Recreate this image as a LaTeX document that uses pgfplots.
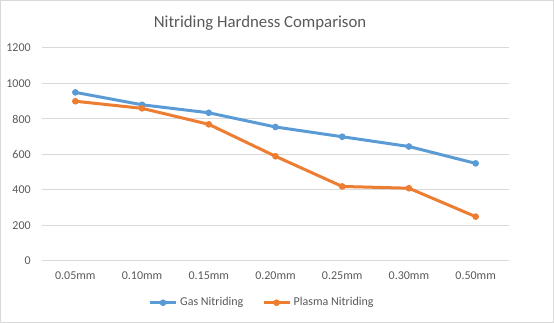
\documentclass[border=0pt]{standalone}
\usepackage{fontspec}
\setmainfont{Carlito}
\usepackage{pgfplots}
\pgfplotsset{compat=1.18}
\definecolor{gasc}{HTML}{5B9BD5}
\definecolor{plac}{HTML}{ED7D31}
\definecolor{txt}{HTML}{595959}
\definecolor{gridc}{HTML}{D9D9D9}
\begin{document}
\begin{tikzpicture}
\useasboundingbox (-31.5pt,-46.5pt) rectangle (384pt,195.75pt);
\draw[gridc, line width=0.75pt] (-31.1pt,-46.1pt) rectangle (383.6pt,195.35pt);
\begin{axis}[
  at={(0,0)}, anchor=south west,
  scale only axis,
  width=350.25pt, height=159.75pt,
  xmin=-0.5, xmax=6.5, ymin=0, ymax=1200,
  xtick={0,...,6},
  xticklabels={0.05mm,0.10mm,0.15mm,0.20mm,0.25mm,0.30mm,0.50mm},
  ytick={0,200,...,1200},
  ymajorgrids,
  grid style={gridc, line width=0.75pt},
  axis lines=left,
  axis line style={-},
  x axis line style={draw=gridc, line width=0.75pt},
  y axis line style={draw=none},
  major tick length=0pt,
  tick style={draw=none},
  ticklabel style={font=\fontsize{9pt}{11pt}\selectfont, text=txt},
  /pgf/number format/assume math mode=true,
  /pgf/number format/1000 sep={},
  yticklabel style={inner sep=0pt, xshift=-8.25pt},
  xticklabel style={inner sep=0pt, yshift=-7.5pt},
  legend style={at={(axis description cs:0.472,-0.196)}, anchor=center, draw=none, fill=none,
    legend columns=2, font=\fontsize{9pt}{11pt}\selectfont, text=txt,
    /tikz/every even column/.append style={column sep=12pt},
    inner sep=0pt},
  legend image code/.code={\draw[mark repeat=2,mark phase=2,#1] plot coordinates {(0pt,0pt) (9.75pt,0pt) (19.5pt,0pt)};},
  clip=false,
]
\addplot[gasc, line width=2.25pt, mark=*, mark size=2.1pt, mark options={solid, line width=0.75pt}] coordinates {
  (0,950) (1,880) (2,835) (3,755) (4,700) (5,645) (6,550)};
\addlegendentry{Gas Nitriding}
\addplot[plac, line width=2.25pt, mark=*, mark size=2.1pt, mark options={solid, line width=0.75pt}] coordinates {
  (0,900) (1,860) (2,770) (3,590) (4,420) (5,410) (6,250)};
\addlegendentry{Plasma Nitriding}
\node[text=txt, font=\fontsize{12.6pt}{15pt}\selectfont] at (axis description cs:0.467,1.119) {Nitriding Hardness Comparison};
\end{axis}
\end{tikzpicture}
\end{document}
